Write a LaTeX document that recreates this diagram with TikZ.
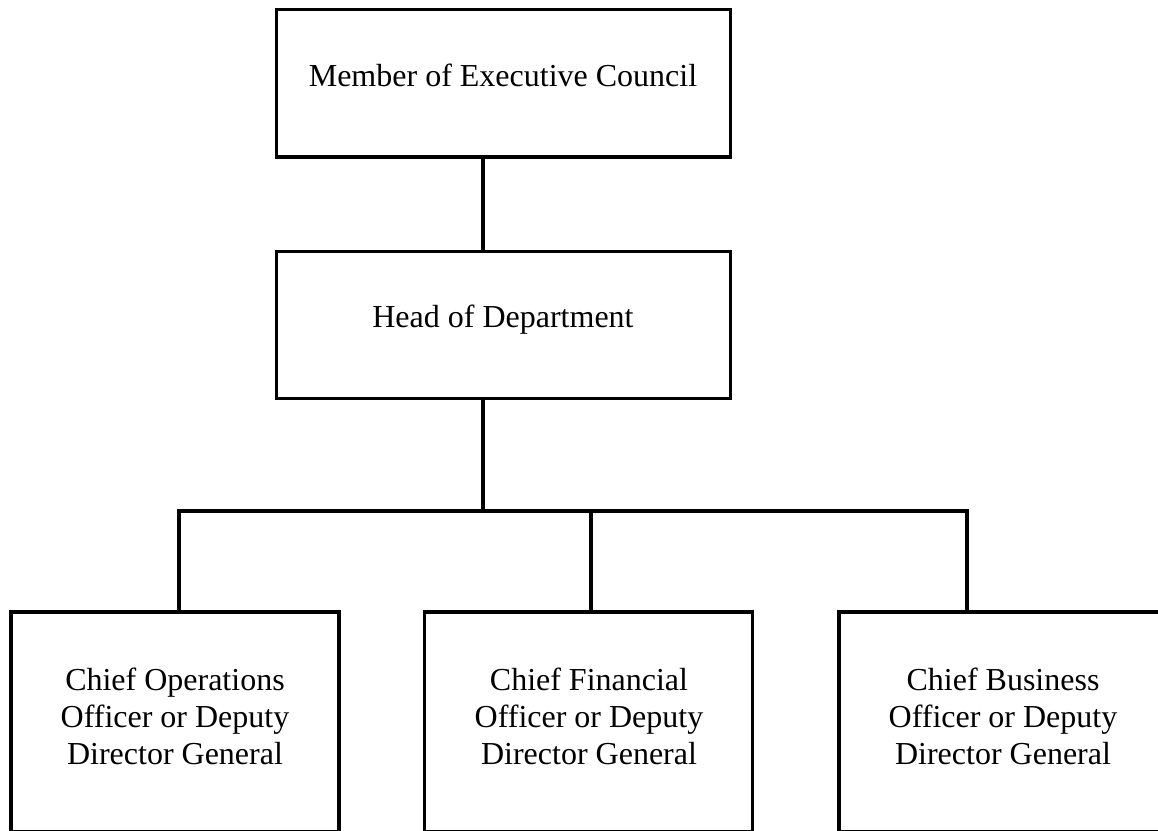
\documentclass[tikz,border=0pt]{standalone}
\usepackage{fontspec}
\setmainfont{Liberation Serif}[Ligatures=CommonOff]
\usetikzlibrary{calc}
\begin{document}
\begin{tikzpicture}[x=0.75pt,y=-0.75pt,
  boxnode/.style={draw=black,line width=2.5pt,rectangle,inner sep=0pt,fill=white},
  topbox/.style={boxnode,minimum width=340.5pt,minimum height=110.5pt},
  lowbox/.style={boxnode,minimum width=246pt,minimum height=165pt},
  txt/.style={inner sep=0pt,font=\fontsize{24}{27.75}\selectfont,align=center},
  conn/.style={draw=black,line width=2.5pt,line join=miter}]
\path[fill=white,use as bounding box] (0,0) rectangle (1158,831);

\node[topbox] (mec) at (503.5,83.5) {};
\node[txt,anchor=base] (mect) at (503,87) {Member of Executive Council};

\node[topbox] (hod) at (503.5,325) {};
\node[txt,anchor=base] (hodt) at (503,328) {Head of Department};

\node[lowbox] (coo) at (175,722) {};
\node[txt] (coot) at (175,716.5) {Chief Operations\\Officer or Deputy\\Director General};

\node[lowbox] (cfo) at (588.5,722) {};
\node[txt] (cfot) at (589,716.5) {Chief Financial\\Officer or Deputy\\Director General};

\node[lowbox] (cbo) at (1003,722) {};
\node[txt] (cbot) at (1003,716.5) {Chief Business\\Officer or Deputy\\Director General};

\coordinate (spine) at (483,511);
\coordinate (b1) at (179,511);
\coordinate (b2) at (591,511);
\coordinate (b3) at (967,511);

\draw[conn] (mec.south -| spine) -- (hod.north -| spine);
\draw[conn] (hod.south -| spine) -- (spine);
\draw[conn] (coo.north -| b1) -- (b1) -- (b3) -- (cbo.north -| b3);
\draw[conn] (b2) -- (cfo.north -| b2);
\end{tikzpicture}
\end{document}
